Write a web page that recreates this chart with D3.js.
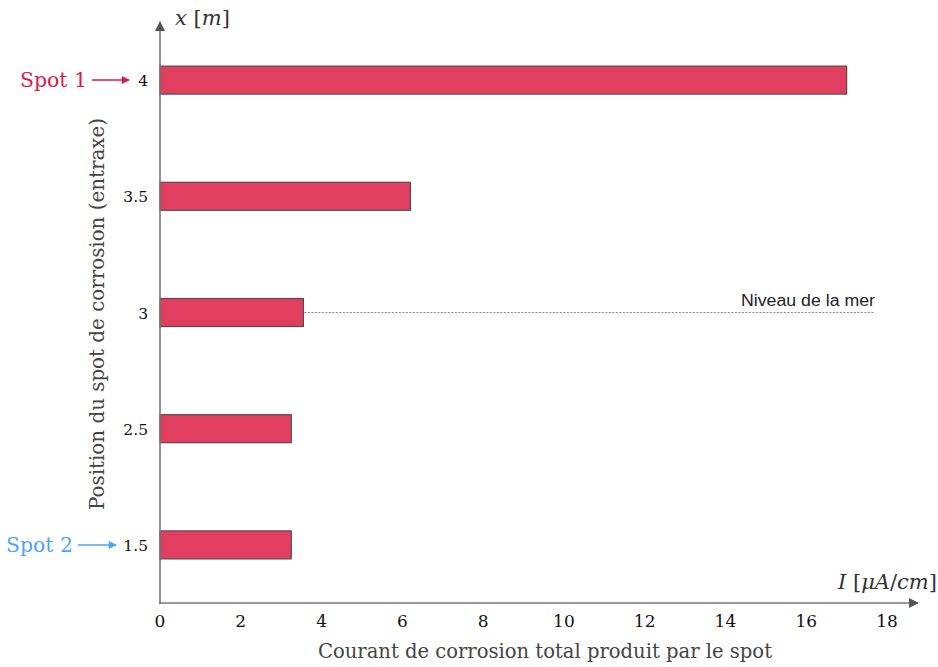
<!DOCTYPE html>
<html><head><meta charset="utf-8">
<script src="https://cdn.jsdelivr.net/npm/d3@7"></script>
<style>body{margin:0;background:#fff}svg{display:block}</style>
</head><body><svg id="c" width="938" height="667"></svg>
<script>
const categories = ["4", "3.5", "3", "2.5", "1.5"];
const values = [17.0, 6.2, 3.55, 3.25, 3.25];
const xTicks = [0, 2, 4, 6, 8, 10, 12, 14, 16, 18];
const seaLevelCategory = "3";
const spotLabels = [{cat: "4", text: "Spot 1", color: "#e0184a"}, {cat: "1.5", text: "Spot 2", color: "#4ea5f2"}];

const svg = d3.select("#c");
const serif = "'DejaVu Serif', serif";
const x0 = 160, yBottom = 603;
const x = d3.scaleLinear().domain([0, 18]).range([x0, 887]);
const y = d3.scaleBand().domain(categories).range([22, 603]).paddingInner(0.76).paddingOuter(0.38);

// bars
svg.selectAll("rect.bar").data(categories).join("rect")
  .attr("x", x(0)).attr("y", d => y(d) + y.bandwidth()/2 - 14)
  .attr("width", (d,i) => x(values[i]) - x(0)).attr("height", 28)
  .attr("fill", "#e23e5f").attr("stroke", "#5a4a4e").attr("stroke-width", 1.2);

// axes lines with arrows
const defs = svg.append("defs");
defs.append("marker").attr("id","arr").attr("viewBox","0 0 10 10").attr("refX",9).attr("refY",5)
  .attr("markerWidth",10).attr("markerHeight",10).attr("markerUnits","userSpaceOnUse").attr("orient","auto")
  .append("path").attr("d","M0,0L10,5L0,10z").attr("fill","#555");
defs.append("marker").attr("id","arrR").attr("viewBox","0 0 10 10").attr("refX",9).attr("refY",5)
  .attr("markerWidth",10).attr("markerHeight",8).attr("markerUnits","userSpaceOnUse").attr("orient","auto")
  .append("path").attr("d","M0,0L10,5L0,10z").attr("fill","#e0184a");
defs.append("marker").attr("id","arrB").attr("viewBox","0 0 10 10").attr("refX",9).attr("refY",5)
  .attr("markerWidth",10).attr("markerHeight",8).attr("markerUnits","userSpaceOnUse").attr("orient","auto")
  .append("path").attr("d","M0,0L10,5L0,10z").attr("fill","#4ea5f2");

svg.append("line").attr("x1", x0).attr("x2", x0).attr("y1", yBottom + 1).attr("y2", 22)
  .attr("stroke", "#777").attr("stroke-width", 1.6).attr("marker-end", "url(#arr)");
svg.append("line").attr("x1", x0 - 1).attr("x2", 918).attr("y1", yBottom).attr("y2", yBottom)
  .attr("stroke", "#777").attr("stroke-width", 1.6).attr("marker-end", "url(#arr)");

// x tick labels
svg.selectAll("text.xt").data(xTicks).join("text")
  .attr("x", d => x(d)).attr("y", 627).attr("text-anchor", "middle")
  .attr("font-family", serif).attr("font-size", 17).attr("fill", "#111").text(d => d);

// y tick labels
svg.selectAll("text.yt").data(categories).join("text")
  .attr("x", 148).attr("y", d => y(d) + y.bandwidth()/2 + 6).attr("text-anchor", "end")
  .attr("font-family", serif).attr("font-size", 15.5).attr("fill", "#111").text(d => d);

// axis titles
svg.append("text").attr("x", 318).attr("y", 658)
  .attr("font-family", serif).attr("font-size", 20).attr("fill", "#444")
  .attr("textLength", 454).attr("lengthAdjust", "spacingAndGlyphs")
  .text("Courant de corrosion total produit par le spot");
svg.append("text").attr("transform", "translate(104,510) rotate(-90)")
  .attr("font-family", serif).attr("font-size", 20).attr("fill", "#444")
  .attr("textLength", 392).attr("lengthAdjust", "spacingAndGlyphs")
  .text("Position du spot de corrosion (entraxe)");

const t1 = svg.append("text").attr("x", 175).attr("y", 25).attr("font-family", serif).attr("font-size", 21).attr("fill", "#333");
t1.append("tspan").attr("font-style", "italic").text("x");
t1.append("tspan").text(" [");
t1.append("tspan").attr("font-style", "italic").text("m");
t1.append("tspan").text("]");

const t2 = svg.append("text").attr("x", 937).attr("y", 589).attr("text-anchor", "end").attr("font-family", serif).attr("font-size", 21).attr("fill", "#333");
t2.append("tspan").attr("font-style", "italic").text("I");
t2.append("tspan").text(" [");
t2.append("tspan").attr("font-style", "italic").text("μA");
t2.append("tspan").text("/");
t2.append("tspan").attr("font-style", "italic").text("cm");
t2.append("tspan").text("]");

// sea level
const seaIdx = categories.indexOf(seaLevelCategory);
const ySea = y(seaLevelCategory) + y.bandwidth()/2;
svg.append("line").attr("x1", x(values[seaIdx]) + 1).attr("x2", 875).attr("y1", ySea).attr("y2", ySea)
  .attr("stroke", "#888").attr("stroke-width", 1).attr("stroke-dasharray", "2,1.5");
svg.append("text").attr("x", 875).attr("y", ySea - 7).attr("text-anchor", "end")
  .attr("font-family", "'Liberation Sans Narrow', 'Liberation Sans', sans-serif").attr("font-size", 16).attr("fill", "#222")
  .attr("textLength", 134).attr("lengthAdjust", "spacingAndGlyphs")
  .text("Niveau de la mer");

// spot labels
spotLabels.forEach((s, i) => {
  const yc = y(s.cat) + y.bandwidth()/2;
  const txtRight = s.cat === "4" ? 87 : 73;
  svg.append("text").attr("x", txtRight).attr("y", yc + 7).attr("text-anchor", "end")
    .attr("font-family", serif).attr("font-size", 21).attr("fill", s.color)
    .attr("textLength", 67).attr("lengthAdjust", "spacingAndGlyphs").text(s.text);
  svg.append("line").attr("x1", txtRight + 5).attr("x2", s.cat === "4" ? 129 : 116).attr("y1", yc).attr("y2", yc)
    .attr("stroke", s.color).attr("stroke-width", 1.5).attr("marker-end", s.cat === "4" ? "url(#arrR)" : "url(#arrB)");
});
</script></body></html>
